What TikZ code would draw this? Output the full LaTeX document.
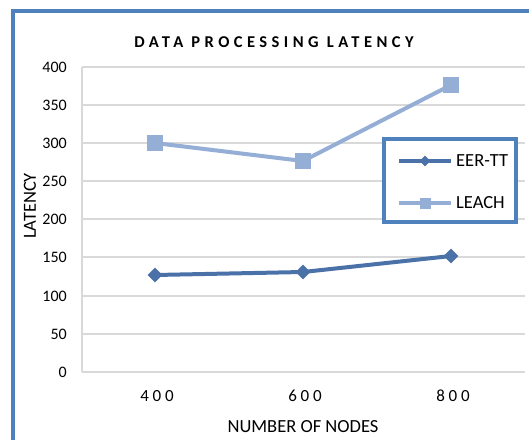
\documentclass[tikz,border=0pt]{standalone}
\usepackage{fontspec}
\setmainfont{Carlito}
\usetikzlibrary{shapes.geometric}
\definecolor{frameblue}{RGB}{79,129,189}
\definecolor{eerc}{RGB}{74,114,168}
\definecolor{leachc}{RGB}{149,174,214}
\definecolor{gridc}{RGB}{217,217,217}
\tikzset{
  grid line/.style={draw=gridc, line width=1.5pt},
  ticklab/.style={font=\fontsize{16}{18}\selectfont, anchor=east, inner sep=0pt},
  xticklab/.style={font=\fontsize{17}{19}\selectfont\addfontfeature{LetterSpace=22}, inner sep=0pt},
  biglab/.style={font=\fontsize{18.5}{20}\selectfont, inner sep=0pt},
  eerline/.style={draw=eerc, line width=4pt, line join=round},
  leachline/.style={draw=leachc, line width=4pt, line join=round},
  eermark/.style={diamond, fill=eerc, minimum width=15pt, minimum height=15pt, inner sep=0pt},
  leachmark/.style={rectangle, fill=leachc, minimum size=16pt, inner sep=0pt},
  eermarksmall/.style={diamond, fill=eerc, minimum width=11pt, minimum height=11pt, inner sep=0pt},
  leachmarksmall/.style={rectangle, fill=leachc, minimum size=11pt, inner sep=0pt},
}
\begin{document}
\begin{tikzpicture}[x=1pt,y=-1pt]
\useasboundingbox (0,0) rectangle (529,439);
\fill[white] (0,0) rectangle (529,439);
\begin{scope}
\clip (0,0) rectangle (529,439);
\draw[frameblue, line width=4pt] (13,11) rectangle (560,470);
\end{scope}
% title
\node[font=\bfseries\fontsize{16.5}{18}\selectfont\addfontfeature{LetterSpace=27}, inner sep=0pt] (title) at (274,42) {DATA PROCESSING LATENCY};
% grid
\foreach \v/\yy in {50/334,100/296,150/257,200/219,250/181,300/143,350/105,400/67} {
  \draw[grid line] (82,\yy) -- (525,\yy);
  \node[ticklab] at (67,\yy) {\v};
}
\draw[grid line] (82,372) -- (525,372);
\draw[grid line] (82,67) -- (82,372);
\node[ticklab] at (67,372) {0};
\node[xticklab] (x400) at (157,396) {400};
\node[xticklab] (x600) at (305,396) {600};
\node[xticklab] (x800) at (453,396) {800};
\node[biglab] (xlab) at (303,427) {NUMBER OF NODES};
\node[biglab, rotate=90] (ylab) at (30,206) {LATENCY};
% data
\coordinate (e1) at (155,275);
\coordinate (e2) at (303,272);
\coordinate (e3) at (451,256);
\coordinate (l1) at (155,143);
\coordinate (l2) at (303,161);
\coordinate (l3) at (451,85);
\draw[leachline] (l1) -- (l2) -- (l3);
\draw[eerline] (e1) -- (e2) -- (e3);
\foreach \p in {l1,l2,l3} \node[leachmark] at (\p) {};
\foreach \p in {e1,e2,e3} \node[eermark] at (\p) {};
% legend
\draw[frameblue, fill=white, line width=4pt] (384,139) rectangle (516,222);
\coordinate (le1a) at (399,161);
\coordinate (le1b) at (451,161);
\coordinate (le2a) at (399,203);
\coordinate (le2b) at (451,203);
\draw[eerline] (le1a) -- (le1b);
\node[eermarksmall] at (425,161) {};
\draw[leachline] (le2a) -- (le2b);
\node[leachmarksmall] at (425,203) {};
\node[biglab, anchor=west] (leg1) at (456,161) {EER-TT};
\node[biglab, anchor=west] (leg2) at (456,203) {LEACH};
\end{tikzpicture}
\end{document}
